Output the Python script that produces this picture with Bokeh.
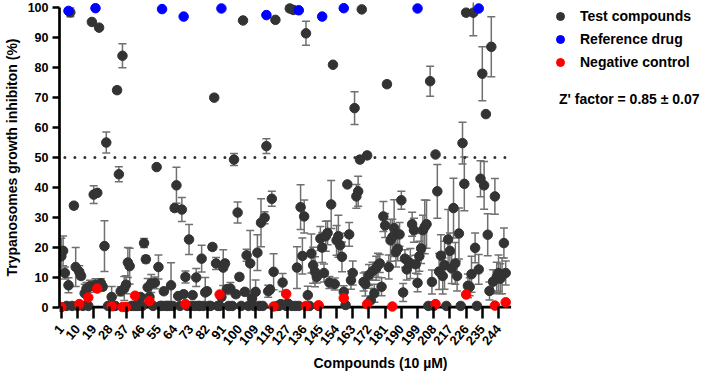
import math
import numpy as np
from bokeh.plotting import figure
from bokeh.models import (ColumnDataSource, Whisker, Legend, LegendItem, Label,
                          FixedTicker, Range1d, TeeHead)
from bokeh.embed import file_html
from bokeh.resources import INLINE

FONT = "Liberation Sans"

x_ticks = [1, 10, 19, 28, 37, 46, 55, 64, 73, 82, 91, 100, 109, 118, 127, 136,
           145, 154, 163, 172, 181, 190, 199, 208, 217, 226, 235, 244]
y_ticks = [0, 10, 20, 30, 40, 50, 60, 70, 80, 90, 100]

test_x = list(range(1, 249))
test_y = [
    17.0, 18.8, 11.4, 0.4, 7.3, 98.5, 0.4, 33.9, 13.4, 0.4,
    11.8, 10.4, 0.4, 4.6, 6.2, 0.4, 7.0, 95.3, 37.6, 7.5,
    38.2, 93.4, 8.0, 6.8, 20.4, 55.0, 0.4, 0.4, 3.4, 0.4,
    0.4, 72.5, 44.4, 5.3, 84.0, 6.2, 7.5, 14.9, 13.7, 0.4,
    0.4, 0.4, 0.4, 0.4, 3.4, 0.4, 21.4, 16.0, 6.6, 3.4,
    7.9, 0.4, 8.1, 46.8, 13.4, 0.4, 0.4, 5.3, 0.4, 0.4,
    0.4, 7.3, 0.4, 33.1, 40.7, 3.7, 0.4, 32.6, 4.3, 10.1,
    0.4, 22.6, 0.4, 4.0, 0.4, 9.9, 0.4, 0.4, 16.2, 0.4,
    4.9, 5.3, 0.4, 0.4, 20.1, 70.0, 14.6, 0.4, 0.4, 3.4,
    13.2, 14.6, 6.0, 0.4, 6.2, 0.4, 49.3, 4.3, 31.6, 10.1,
    0.4, 95.8, 5.1, 17.3, 0.4, 14.6, 2.9, 0.4, 5.1, 18.2,
    0.4, 28.2, 0.4, 29.9, 53.8, 5.3, 5.9, 36.2, 11.8, 96.0,
    0.4, 0.4, 1.0, 8.2, 0.8, 0.4, 1.2, 99.8, 0.4, 99.3,
    0.4, 13.2, 0.4, 33.4, 17.1, 30.3, 91.5, 4.0, 0.4, 17.9,
    14.0, 11.8, 10.1, 0.4, 22.9, 19.9, 11.4, 23.7, 24.8, 8.2,
    34.3, 81.0, 7.7, 22.3, 23.7, 20.7, 16.8, 5.1, 0.7, 41.0,
    24.3, 9.0, 11.4, 66.5, 37.0, 38.7, 49.3, 99.5, 8.4, 7.7,
    50.7, 10.7, 2.3, 12.0, 4.6, 13.0, 14.0, 14.6, 6.8, 30.3,
    27.3, 74.5, 13.4, 22.3, 23.4, 26.4, 18.4, 19.5, 24.3, 35.7,
    4.9, 16.2, 12.6, 15.1, 14.6, 27.7, 25.7, 14.3, 8.1, 17.0,
    19.6, 25.7, 26.8, 27.7, 0.4, 75.5, 8.4, 0.4, 51.0, 38.7,
    11.9, 17.2, 10.4, 14.0, 0.4, 22.6, 18.8, 12.9, 33.1, 14.6,
    10.4, 24.6, 0.4, 54.8, 41.2, 98.4, 7.1, 6.8, 11.0, 98.4,
    19.8, 0.4, 12.6, 42.9, 78.0, 40.7, 64.5, 24.2, 5.4, 87.0,
    8.5, 37.0, 10.0, 11.4, 9.5, 10.5, 21.4, 11.4,
]
test_err = [
    6, 5, 2, 0, 2.5, 1.5, 0, 1, 6.5, 0,
    2, 1, 0, 3, 2, 0, 2, 0, 3, 2,
    0.5, 0, 1.5, 1, 8.5, 3.5, 0, 0, 3.5, 0,
    0, 1, 2.5, 1.5, 4, 4, 3, 5, 6, 0,
    0, 0, 0, 0, 1, 0, 1.5, 1.2, 3, 0,
    3, 0, 2, 0, 4, 0, 0, 1, 0, 0,
    0, 7.5, 0, 1, 6, 0, 0, 4, 1, 2,
    0, 5, 0, 0, 0, 3, 0, 0, 4.5, 0,
    5, 1, 0, 0, 1, 0.5, 2, 0, 0, 1,
    6, 1, 1, 0, 2, 0, 2, 1, 3.5, 1,
    0, 0, 1, 2, 0, 11, 1, 0, 4, 6,
    0, 8, 0, 2, 2.5, 2, 1, 2.5, 6, 0,
    0, 0, 0, 3, 0, 0, 0, 1, 0, 1,
    0, 7, 0, 7.5, 6, 5.5, 4, 3, 0, 6.5,
    6, 5, 2, 0, 4, 5, 3, 5, 4, 2,
    8, 0, 2, 5, 7, 4, 5, 2, 0, 0,
    4, 3, 4, 5.5, 4, 5, 1, 0, 3, 4,
    1, 3.5, 4, 3, 3, 4, 4, 3, 3, 5,
    4, 1, 4, 7, 6, 9.5, 5, 4, 4, 3,
    3, 3, 3.5, 2, 5, 4, 4, 3, 3, 5,
    5, 5, 9, 8, 0, 5, 4, 0, 0, 9,
    6, 7, 6, 8, 0, 10, 6, 5, 10, 7,
    5, 8.5, 0, 7, 9, 1, 4, 3, 6, 7.7,
    5, 0, 5, 6, 9, 8, 0, 7, 3, 10,
    4, 6, 5, 6, 5, 6, 5, 4,
]

ref_x = [5, 20, 57, 69, 90, 115, 133, 146, 158, 199, 233]
ref_y = [99.0, 99.9, 99.6, 97.1, 99.8, 97.6, 99.2, 97.1, 99.9, 99.8, 99.8]

neg_x = [1, 11, 16, 21, 29, 35, 37, 42, 50, 70, 89, 119, 126, 137, 144, 158,
         171, 185, 209, 226, 242, 248]
neg_y = [0.0, 1.0, 3.2, 6.2, 0.3, 0.0, 0.0, 3.8, 2.0, 1.0, 4.2, 0.2, 4.4, 0.4,
         0.6, 3.0, 1.0, 0.2, 1.0, 4.2, 0.5, 1.6]
neg_err = [0, 0, 0, 0, 0, 0, 0, 0, 0, 1.0, 0, 0, 0, 0, 0, 0, 0, 0, 0, 0, 0, 0]

threshold = 50
legend_labels = ["Test compounds", "Reference drug", "Negative control"]
z_text = "Z' factor = 0.85 \u00b1 0.07"

TEST_C = "#333333"
REF_C = "#0000ff"
NEG_C = "#ff0000"
ERR_C = "#707070"

# layout geometry (pixels)
W, H = 701, 373
LEFT, RIGHT_AXIS_PX = 57, 510
AXIS_END = 251  # last x value of the axis line
x_end = AXIS_END * (W - LEFT) / (RIGHT_AXIS_PX - LEFT)

p = figure(width=W, height=H, x_range=Range1d(0, x_end), y_range=Range1d(-1.8, 101.8),
           output_backend="svg", toolbar_location=None,
           min_border_left=LEFT, min_border_right=0, min_border_top=2, min_border_bottom=61)
p.outline_line_color = None
p.xgrid.grid_line_color = None
p.ygrid.grid_line_color = None
p.background_fill_color = "white"
p.border_fill_color = "white"

# x axis line at y = 0 and dotted threshold line
p.segment(x0=[0], y0=[0], x1=[AXIS_END], y1=[0], line_color="black", line_width=2.7)
p.segment(x0=[min(test_x) + 2], y0=[threshold], x1=[AXIS_END], y1=[threshold],
          line_color="#333333", line_width=3, line_dash="0 10", line_cap="round")

# error bars
tx = np.array(test_x, dtype=float)
ty = np.array(test_y, dtype=float)
te = np.array(test_err, dtype=float)
m = te > 0
wsrc = ColumnDataSource(dict(x=tx[m], lower=np.maximum(ty[m] - te[m], 0), upper=ty[m] + te[m]))
p.add_layout(Whisker(base="x", lower="lower", upper="upper", source=wsrc, dimension="height",
                     line_color=ERR_C, line_width=1.5, level="underlay",
                     upper_head=TeeHead(size=8, line_color=ERR_C, line_width=1.5),
                     lower_head=TeeHead(size=8, line_color=ERR_C, line_width=1.5)))

nx = np.array(neg_x, dtype=float)
ny = np.array(neg_y, dtype=float)
ne = np.array(neg_err, dtype=float)
mn = ne > 0
nsrc_w = ColumnDataSource(dict(x=nx[mn], lower=np.maximum(ny[mn] - ne[mn], 0), upper=ny[mn] + ne[mn]))
p.add_layout(Whisker(base="x", lower="lower", upper="upper", source=nsrc_w, dimension="height",
                     line_color=NEG_C, line_width=1.5, level="underlay",
                     upper_head=TeeHead(size=6, line_color=NEG_C, line_width=1.5),
                     lower_head=TeeHead(size=6, line_color=NEG_C, line_width=1.5)))

r_test = p.scatter(x=test_x, y=test_y, size=9.5, marker="circle",
                   fill_color=TEST_C, line_color=TEST_C)
r_ref = p.scatter(x=ref_x, y=ref_y, size=9.5, marker="circle",
                  fill_color=REF_C, line_color=REF_C)
r_neg = p.scatter(x=neg_x, y=neg_y, size=9.5, marker="circle",
                  fill_color=NEG_C, line_color=NEG_C)

# axes
xa = p.xaxis[0]
xa.ticker = FixedTicker(ticks=x_ticks)
xa.bounds = (0, AXIS_END)
xa.axis_line_color = None
xa.major_tick_line_width = 2.5
xa.major_tick_line_color = "black"
xa.major_tick_in = 6
xa.major_tick_out = 6
xa.minor_tick_line_color = None
xa.major_label_orientation = 0.87
xa.major_label_text_font = FONT
xa.major_label_text_font_style = "bold"
xa.major_label_text_font_size = "13px"
xa.major_label_text_color = "black"
xa.major_label_standoff = 8
xa.axis_label = "Compounds (10 \u00b5M)"
xa.axis_label_text_font = FONT
xa.axis_label_text_font_style = "bold"
xa.axis_label_text_font_size = "14px"
xa.axis_label_text_color = "black"
xa.axis_label_standoff = 3

ya = p.yaxis[0]
ya.ticker = FixedTicker(ticks=y_ticks)
ya.bounds = (0, 100)
ya.axis_line_width = 2.7
ya.axis_line_color = "black"
ya.major_tick_line_width = 2.5
ya.major_tick_line_color = "black"
ya.major_tick_in = 0
ya.major_tick_out = 7
ya.minor_tick_line_color = None
ya.major_label_text_font = FONT
ya.major_label_text_font_style = "bold"
ya.major_label_text_font_size = "12.5px"
ya.major_label_text_color = "black"
ya.major_label_standoff = 4
ya.axis_label = "Trypanosomes growth inhibiton (%)"
ya.axis_label_text_font = FONT
ya.axis_label_text_font_style = "bold"
ya.axis_label_text_font_size = "14px"
ya.axis_label_text_color = "black"
ya.axis_label_standoff = 5

legend = Legend(items=[LegendItem(label=legend_labels[0], renderers=[r_test]),
                       LegendItem(label=legend_labels[1], renderers=[r_ref]),
                       LegendItem(label=legend_labels[2], renderers=[r_neg])],
                location=(491, 240), orientation="vertical", padding=0, margin=0, spacing=3,
                label_standoff=10, glyph_width=20, glyph_height=20, label_height=20,
                border_line_color=None, background_fill_alpha=0,
                label_text_font=FONT, label_text_font_style="bold",
                label_text_font_size="14px", label_text_color="black")
p.add_layout(legend)

p.add_layout(Label(x=499.5, y=213.5, x_units="screen", y_units="screen", text=z_text,
                   text_font=FONT, text_font_style="bold", text_font_size="14px",
                   text_color="black", text_baseline="middle", text_align="left"))

open("out.html", "w").write(file_html(p, INLINE))
